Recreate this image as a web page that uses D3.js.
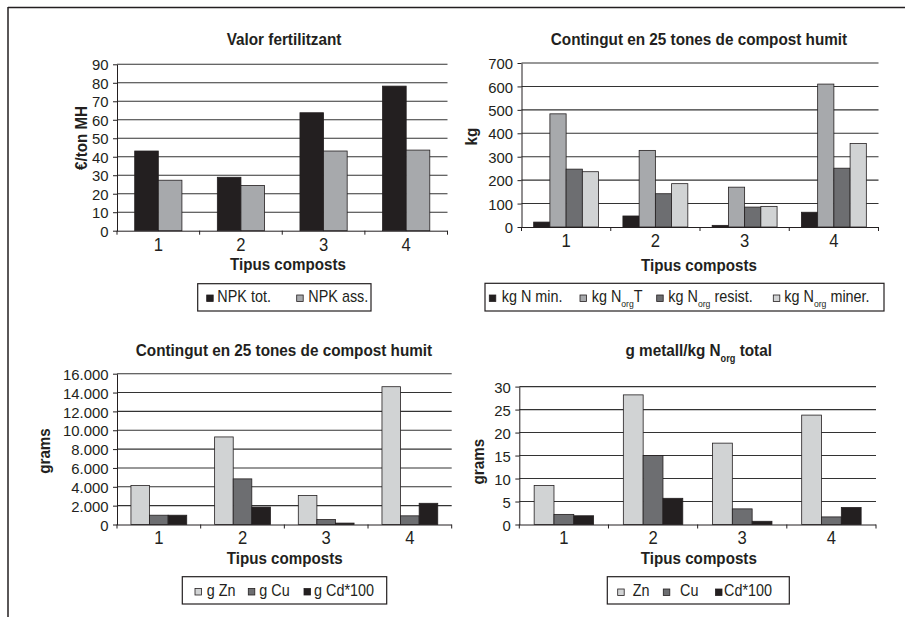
<!DOCTYPE html>
<html>
<head>
<meta charset="utf-8">
<script src="https://cdn.jsdelivr.net/npm/d3@7"></script>
<style>
  html, body { margin: 0; padding: 0; background: #fff; }
  svg { display: block; }
  text { font-family: "Liberation Sans", Arial, Helvetica, sans-serif; fill: #231f20; }
</style>
</head>
<body>
<svg id="chart" width="905" height="617"></svg>
<script>
// ---------------- DATA ----------------
const categories = ["1", "2", "3", "4"];

// Panel 1: Valor fertilitzant (€/ton MH)
const npkTot = [43.1, 28.9, 63.8, 78.2];
const npkAss = [27.3, 24.5, 43.1, 43.6];
const ticksP1 = [0, 10, 20, 30, 40, 50, 60, 70, 80, 90];

// Panel 2: Contingut en 25 tones de compost humit (kg)
const kgNmin = [21, 47, 7, 63];
const kgNorgT = [483, 327, 170, 610];
const kgNorgResist = [247, 142, 85, 251];
const kgNorgMiner = [236, 185, 88, 356];
const ticksP2 = [0, 100, 200, 300, 400, 500, 600, 700];

// Panel 3: Contingut en 25 tones de compost humit (grams)
const gZn = [4130, 9290, 3070, 14620];
const gCu = [985, 4840, 530, 920];
const gCd100 = [985, 1850, 150, 2250];
const ticksP3 = [0, 2000, 4000, 6000, 8000, 10000, 12000, 14000, 16000];

// Panel 4: g metall/kg Norg total (grams)
const zn = [8.5, 28.2, 17.7, 23.8];
const cu = [2.2, 15.0, 3.4, 1.65];
const cd100 = [1.9, 5.7, 0.7, 3.7];
const ticksP4 = [0, 5, 10, 15, 20, 25, 30];

// ---------------- STYLE ----------------
const C_BLACK = "#231f20", C_MID = "#a7a9ac", C_DARK = "#6d6e71", C_LIGHT = "#d1d3d4";
const loc = d3.formatLocale({decimal: ",", thousands: ".", grouping: [3], currency: ["", "€"]});
const fmtDot = loc.format(",d");

const S_TITLE = {size: 17, sx: 0.9, weight: "bold"};
const S_AXT = {size: 16.5, sx: 0.92, weight: "bold"};
const S_LEG = {size: 16, sx: 0.9, weight: "normal"};
const S_YT = {size: 15.5, sx: 0.96};
const S_XT = {size: 18.5, sx: 0.9};

const svg = d3.select("#chart");

// outer frame (top + left)
svg.append("line").attr("x1", 8).attr("y1", 7.5).attr("x2", 905).attr("y2", 7.5)
  .attr("stroke", "#231f20").attr("stroke-width", 1.5);
svg.append("line").attr("x1", 8).attr("y1", 7).attr("x2", 8).attr("y2", 617)
  .attr("stroke", "#231f20").attr("stroke-width", 1.5);

function txt(parent, x, y, parts, st, anchor, rot) {
  const t = parent.append("text")
    .attr("transform", `translate(${x},${y})${rot ? " rotate(" + rot + ")" : ""} scale(${st.sx},1)`)
    .attr("text-anchor", anchor || "start")
    .attr("font-weight", st.weight || "normal")
    .attr("font-size", st.size);
  parts.forEach((p, i) => {
    const s = t.append("tspan").text(p[0]);
    if (p[1]) { s.attr("font-size", st.size * 0.6).attr("dy", st.size * 0.33); }
    else if (i > 0 && parts[i - 1][1]) { s.attr("dy", -st.size * 0.33); }
  });
  return t;
}

function drawPanel(cfg) {
  const g = svg.append("g");
  const x = d3.scaleBand().domain(categories).range([cfg.x0, cfg.x1]).padding(0);
  const nS = cfg.series.length;
  const bw = x.bandwidth() / (nS + 1.5);
  const xs = d3.scaleBand().domain(d3.range(nS)).range([0.75 * bw, 0.75 * bw + nS * bw]).padding(0);
  const y = d3.scaleLinear().domain([cfg.ticks[0], cfg.ticks[cfg.ticks.length - 1]]).range([cfg.y0, cfg.y1]);

  // gridlines
  g.append("g").selectAll("line").data(cfg.ticks.slice(1)).join("line")
    .attr("x1", cfg.x0).attr("x2", cfg.x1)
    .attr("y1", d => y(d)).attr("y2", d => y(d))
    .attr("stroke", "#333").attr("stroke-width", 1.1);

  // bars
  cfg.series.forEach((s, si) => {
    g.append("g").selectAll("rect").data(s.values).join("rect")
      .attr("x", (d, i) => x(categories[i]) + xs(si))
      .attr("width", xs.bandwidth())
      .attr("y", d => y(d))
      .attr("height", d => y(0) - y(d))
      .attr("fill", s.color)
      .attr("stroke", C_BLACK).attr("stroke-width", 0.8);
  });

  // y axis
  const ya = g.append("g").attr("transform", `translate(${cfg.x0},0)`)
    .call(d3.axisLeft(y).tickValues(cfg.ticks).tickSize(4).tickSizeOuter(0).tickPadding(4).tickFormat(cfg.fmt));
  ya.select(".domain").attr("stroke", C_BLACK);
  ya.selectAll(".tick line").attr("stroke", C_BLACK);
  ya.selectAll(".tick text")
    .attr("x", null).attr("dy", null)
    .attr("transform", `translate(-8.5,5.6) scale(${S_YT.sx},1)`)
    .attr("font-size", S_YT.size).attr("fill", C_BLACK)
    .attr("font-family", "Liberation Sans, Arial, sans-serif");

  // x axis
  const xa = g.append("g").attr("transform", `translate(0,${cfg.y0})`)
    .call(d3.axisBottom(x).tickSize(0).tickSizeOuter(0));
  xa.select(".domain").attr("stroke", C_BLACK).attr("d", `M${cfg.x0},0.5H${cfg.x1}`);
  xa.selectAll(".tick text")
    .attr("y", null).attr("dy", null)
    .attr("transform", `translate(0,${cfg.xlab}) scale(${S_XT.sx},1)`)
    .attr("font-size", S_XT.size).attr("fill", C_BLACK)
    .attr("font-family", "Liberation Sans, Arial, sans-serif");
  const bounds = categories.map(c => x(c)).concat([cfg.x1]);
  xa.append("g").selectAll("line").data(bounds).join("line")
    .attr("x1", d => d).attr("x2", d => d).attr("y1", 0).attr("y2", 4)
    .attr("stroke", C_BLACK);

  // titles
  txt(g, cfg.titleX, cfg.titleY, cfg.title, S_TITLE, "middle");
  txt(g, cfg.xTitleX, cfg.xTitleY, [["Tipus composts"]], S_AXT, "middle");
  txt(g, cfg.yTitleX, cfg.yTitleY, [[cfg.yTitle]], S_AXT, "middle", -90);

  // legend
  const L = cfg.legend;
  g.append("rect").attr("x", L.x).attr("y", L.y).attr("width", L.w).attr("height", L.h)
    .attr("fill", "#fff").attr("stroke", C_BLACK).attr("stroke-width", 1.2);
  cfg.series.forEach((s, si) => {
    const it = L.items[si];
    g.append("rect").attr("x", it[0]).attr("y", L.base - 7).attr("width", 6.5).attr("height", 6.5)
      .attr("fill", s.color).attr("stroke", C_BLACK).attr("stroke-width", 0.8);
    txt(g, it[1], L.base, s.label, S_LEG, "start");
  });
}

drawPanel({
  x0: 117, x1: 447.5, y0: 230.7, y1: 64.3, ticks: ticksP1, fmt: d3.format("d"), xlab: 20,
  series: [
    {values: npkTot, color: C_BLACK, label: [["NPK tot."]]},
    {values: npkAss, color: C_MID, label: [["NPK ass."]]}
  ],
  title: [["Valor fertilitzant"]], titleX: 284, titleY: 44.5,
  xTitleX: 288, xTitleY: 270,
  yTitle: "€/ton MH", yTitleX: 86.5, yTitleY: 138,
  legend: {x: 197.7, y: 283.7, w: 173.3, h: 27.3, base: 302,
    items: [[206.7, 217.3], [296.7, 308.3]]}
});

drawPanel({
  x0: 521.5, x1: 878.5, y0: 227, y1: 63, ticks: ticksP2, fmt: d3.format("d"), xlab: 20,
  series: [
    {values: kgNmin, color: C_BLACK, label: [["kg N min."]]},
    {values: kgNorgT, color: C_MID, label: [["kg N"], ["org", true], ["T"]]},
    {values: kgNorgResist, color: C_DARK, label: [["kg N"], ["org", true], [" resist."]]},
    {values: kgNorgMiner, color: C_LIGHT, label: [["kg N"], ["org", true], [" miner."]]}
  ],
  title: [["Contingut en 25 tones de compost humit"]], titleX: 699, titleY: 45,
  xTitleX: 699, xTitleY: 270.5,
  yTitle: "kg", yTitleX: 476.5, yTitleY: 136.7,
  legend: {x: 485, y: 283.3, w: 399, h: 27.7, base: 302,
    items: [[489.3, 501.7], [580, 591.7], [656.7, 668.3], [773.3, 784.3]]}
});

drawPanel({
  x0: 117, x1: 451.7, y0: 524.5, y1: 373.7, ticks: ticksP3, fmt: fmtDot, xlab: 19,
  series: [
    {values: gZn, color: C_LIGHT, label: [["g Zn"]]},
    {values: gCu, color: C_DARK, label: [["g Cu"]]},
    {values: gCd100, color: C_BLACK, label: [["g Cd*100"]]}
  ],
  title: [["Contingut en 25 tones de compost humit"]], titleX: 284, titleY: 355.7,
  xTitleX: 284.7, xTitleY: 564,
  yTitle: "grams", yTitleX: 49.5, yTitleY: 451,
  legend: {x: 182.3, y: 576.7, w: 204.4, h: 27.3, base: 595.5,
    items: [[195, 206.7], [248.3, 259.3], [304, 314]]}
});

drawPanel({
  x0: 519.3, x1: 876, y0: 524.5, y1: 386.6, ticks: ticksP4, fmt: d3.format("d"), xlab: 19,
  series: [
    {values: zn, color: C_LIGHT, label: [["Zn"]]},
    {values: cu, color: C_DARK, label: [["Cu"]]},
    {values: cd100, color: C_BLACK, label: [["Cd*100"]]}
  ],
  title: [["g metall/kg N"], ["org", true], [" total"]], titleX: 698.7, titleY: 356,
  xTitleX: 698.8, xTitleY: 564,
  yTitle: "grams", yTitleX: 484, yTitleY: 461.7,
  legend: {x: 607.3, y: 576.7, w: 182, h: 27.3, base: 596,
    items: [[617.7, 632.7], [663.3, 680], [715.5, 724]]}
});
</script>
</body>
</html>
